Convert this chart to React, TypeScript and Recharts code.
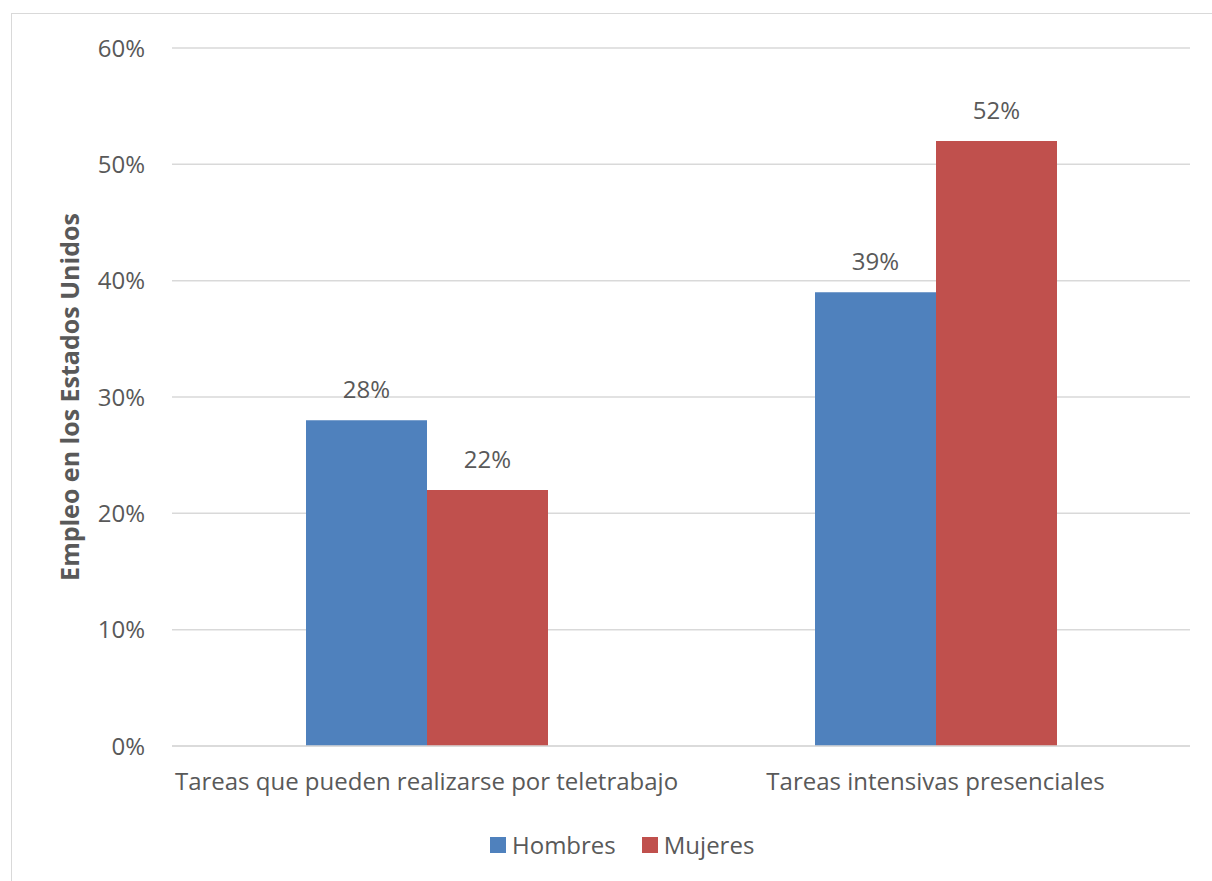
import React from 'react';
import { BarChart, Bar, XAxis, YAxis, CartesianGrid, LabelList } from 'recharts';

// Task categories and employment shares (%) by sex
const categories = [
  'Tareas que pueden realizarse por teletrabajo',
  'Tareas intensivas presenciales',
];
const hombres = [28, 39];
const mujeres = [22, 52];
const yTicks = [0, 10, 20, 30, 40, 50, 60];

const seriesNames = ['Hombres', 'Mujeres'];
const seriesColors = ['#4F81BD', '#C0504D'];

const data = categories.map((c, i) => ({
  category: c,
  Hombres: hombres[i],
  Mujeres: mujeres[i],
}));

const FONT = '"Open Sans", sans-serif';
const TEXT = '#595959';
const GRID = '#d9d9d9';
const FS = 24;

const YLabel = () => (
  <text
    x={0}
    y={0}
    transform="translate(69, 397) rotate(-90)"
    textAnchor="middle"
    dominantBaseline="central"
    fill={TEXT}
    fontFamily={FONT}
    fontSize={25}
    fontWeight="bold"
  >
    Empleo en los Estados Unidos
  </text>
);

export default function App() {
  return (
    <div
      style={{
        position: 'absolute',
        left: 0,
        top: 0,
        width: 1212,
        height: 881,
        overflow: 'hidden',
        background: '#fff',
      }}
    >
      <div
        style={{
          position: 'absolute',
          left: 11,
          top: 13,
          width: 1240,
          height: 920,
          border: '1.5px solid #d9d9d9',
        }}
      />
      <div style={{ position: 'absolute', left: 0, top: 0 }}>
        <BarChart
          width={1212}
          height={881}
          data={data}
          margin={{ top: 48, right: 22, bottom: 75, left: 0 }}
          barGap={0}
          barSize={121}
        >
          <CartesianGrid vertical={false} stroke={GRID} strokeWidth={1.5} />
          <XAxis
            dataKey="category"
            axisLine={{ stroke: GRID, strokeWidth: 1.5 }}
            tickLine={false}
            tickSize={6}
            tickMargin={21}
            height={60}
            interval={0}
            tick={{ fill: TEXT, fontFamily: FONT, fontSize: FS }}
          />
          <YAxis
            width={172}
            domain={[0, 60]}
            ticks={yTicks}
            tickFormatter={(v: number) => `${v}%`}
            axisLine={false}
            tickLine={false}
            tickSize={6}
            tickMargin={21}
            tick={{ fill: TEXT, fontFamily: FONT, fontSize: FS }}
            label={<YLabel />}
          />
          {seriesNames.map((name, i) => (
            <Bar
              key={name}
              dataKey={name}
              fill={seriesColors[i]}
              isAnimationActive={false}
            >
              <LabelList
                dataKey={name}
                position="top"
                offset={22}
                formatter={(v: number) => `${v}%`}
                style={{ fill: TEXT, fontFamily: FONT, fontSize: FS }}
              />
            </Bar>
          ))}
        </BarChart>
      </div>
      <div
        style={{
          position: 'absolute',
          left: 490,
          top: 828,
          display: 'flex',
          alignItems: 'center',
          fontFamily: FONT,
          fontSize: FS,
          color: TEXT,
          lineHeight: '34px',
        }}
      >
        {seriesNames.map((name, i) => (
          <div
            key={name}
            style={{ display: 'flex', alignItems: 'center', marginRight: 26 }}
          >
            <span
              style={{
                display: 'inline-block',
                width: 16,
                height: 16,
                background: seriesColors[i],
                marginRight: 6,
              }}
            />
            <span>{name}</span>
          </div>
        ))}
      </div>
    </div>
  );
}
